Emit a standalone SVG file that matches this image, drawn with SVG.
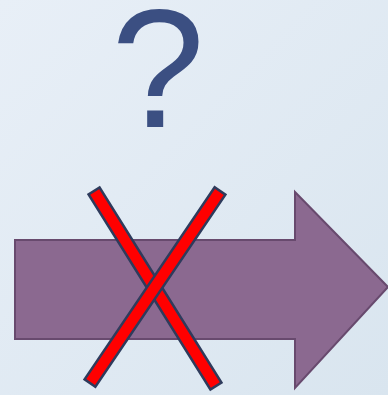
<svg xmlns="http://www.w3.org/2000/svg" width="388" height="395" viewBox="0 0 388 395">
<defs>
<linearGradient id="bg" x1="0" y1="0" x2="1" y2="1">
<stop offset="0" stop-color="#E8EFF7"/>
<stop offset="1" stop-color="#D9E5EF"/>
</linearGradient>
<style>
.bar{fill:#FF0000;stroke:#2E3B5C;stroke-width:2.5}
.arrow{fill:#8B6990;stroke:#684A6E;stroke-width:2}
.q{font-family:"Liberation Sans",Arial,sans-serif;font-size:168px;fill:#3B4F82}
</style>
</defs>
<rect width="388" height="395" fill="url(#bg)"/>
<g id="question">
<text class="q" x="158" y="127" text-anchor="middle">?</text>
</g>
<g id="arrow">
<polygon class="arrow" points="15,240 295,240 295,192 388,287 295,388 295,339 15,339"/>
</g>
<g id="cross">
<g transform="translate(155,288.5) rotate(58)"><rect class="bar" x="-115" y="-6.5" width="230" height="13"/></g>
<g transform="translate(155,287) rotate(124.1)"><rect class="bar" x="-116" y="-6.5" width="232" height="13"/></g>
</g>
</svg>
